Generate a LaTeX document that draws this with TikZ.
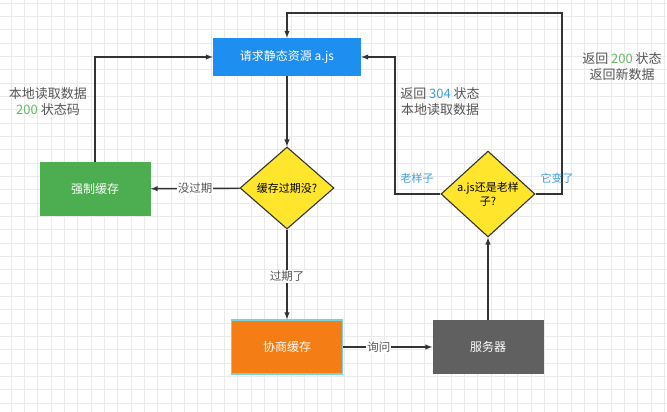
\documentclass[tikz,border=0pt]{standalone}
\usepackage{fontspec}
\setmainfont{Noto Sans CJK SC}
\usepackage{tikz}
\usetikzlibrary{arrows}
\usetikzlibrary{positioning}
\usetikzlibrary{shapes.geometric}
\definecolor{reqblue}{RGB}{30,142,240}
\definecolor{forcegreen}{RGB}{76,174,80}
\definecolor{askyellow}{RGB}{255,230,45}
\definecolor{negoorange}{RGB}{244,125,22}
\definecolor{negoedge}{RGB}{120,210,215}
\definecolor{srvgray}{RGB}{96,96,96}
\definecolor{flowline}{RGB}{51,51,51}
\definecolor{labelgray}{RGB}{85,85,85}
\definecolor{labelblue}{RGB}{60,158,216}
\definecolor{codegreen}{RGB}{100,184,102}
\definecolor{gridgray}{RGB}{234,234,234}
\tikzset{>=latex}
\tikzset{box/.style = {rectangle, text=white, minimum width=111, minimum height=54, font=\fontsize{12}{14}\selectfont}}
\tikzset{ask/.style = {diamond, draw=flowline, fill=askyellow, line width=1.1pt, minimum width=94, minimum height=82, inner sep=0pt, align=center, font=\fontsize{11}{14}\selectfont}}
\tikzset{flow/.style = {-latex, draw=flowline, line width=1.4pt}}
\tikzset{edgetext/.style = {fill=white, inner sep=1pt, text=labelgray, font=\fontsize{11.5}{14}\selectfont}}
\tikzset{sidetext/.style = {align=center, text=labelgray, font=\fontsize{13}{16}\selectfont}}

\begin{document}
\begin{tikzpicture}[x=1pt, y=-1pt]
\useasboundingbox (0,0) rectangle (667,412);
% background grid
\foreach \gx in {0,...,49} \draw [gridgray, line width=0.6pt] (11+13.33*\gx, 0) -- (11+13.33*\gx, 412);
\foreach \gy in {0,...,30} \draw [gridgray, line width=0.6pt] (0, 3+13.33*\gy) -- (667, 3+13.33*\gy);

\node [box, fill=reqblue, minimum width=148, minimum height=38] (req) at (287, 57) {请求静态资源 a.js};
\node [ask] (chk) at (287, 188) {缓存过期没?};
\node [box, fill=forcegreen] (force) at (95, 189) {强制缓存};
\node [box, fill=negoorange, draw=negoedge, line width=1.2pt] (nego) at (287, 347) {协商缓存};
\node [box, fill=srvgray] (srv) at (488, 347) {服务器};
\node [ask] (same) at (488, 194) {a.js还是老样\\子?};
\coordinate (oldturn) at (395, 194);
\coordinate (newturn) at (562, 13);

\draw [flow] (req) to (chk);
\draw [flow] (chk) to node[pos=0.5, edgetext] {没过期} (force);
\draw [flow] (force.north) |- (req.west);
\draw [flow] (chk) to node[pos=0.52, edgetext] {过期了} (nego);
\draw [flow] (nego) to node[pos=0.4, edgetext] {询问} (srv);
\draw [flow] (srv) to (same);
\draw [flow] (same.west) -- (oldturn) |- (req.east);
\draw [flow] (same.east) -| (newturn) -| (req.north);

\node [text=labelblue, font=\fontsize{11}{14}\selectfont] (oldtext) at (417, 178) {老样子};
\node [text=labelblue, font=\fontsize{11}{14}\selectfont] (newtext) at (557, 178) {它变了};
\node [sidetext] (localtext) at (48, 102) {本地读取数据\\\textcolor{codegreen}{200} 状态码};
\node [sidetext] (cachedtext) at (440, 102) {返回 \textcolor{labelblue}{304} 状态\\本地读取数据};
\node [sidetext] (freshtext) at (622, 67) {返回 \textcolor{codegreen}{200} 状态\\返回新数据};
\end{tikzpicture}
\end{document}
